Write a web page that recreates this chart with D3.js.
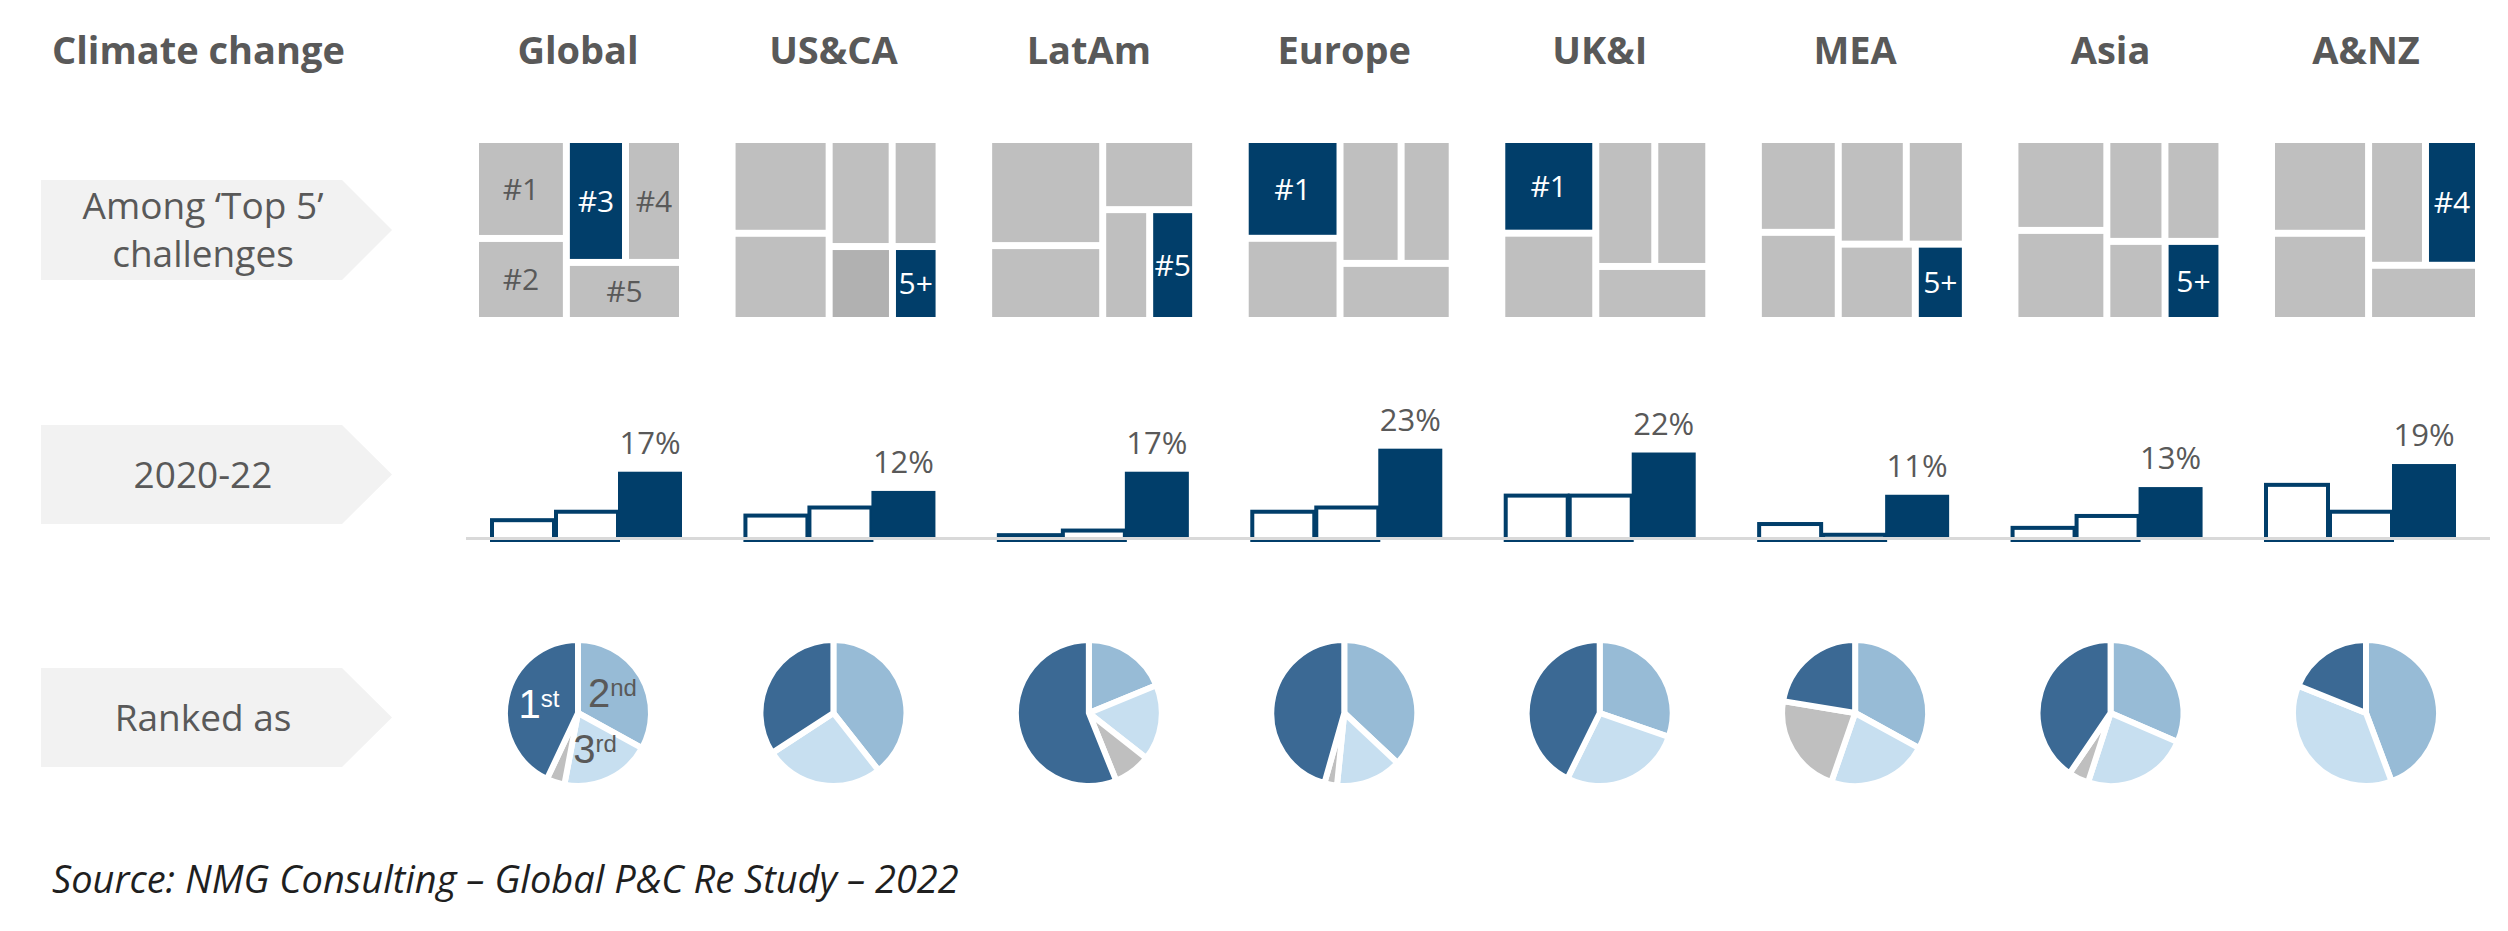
<!DOCTYPE html>
<html lang="en">
<head>
   <meta charset="utf-8">
   <title>Climate change - ranking of challenges by region</title>
   <script src="https://cdnjs.cloudflare.com/ajax/libs/d3/7.8.5/d3.min.js"></script>
   <style type="text/css">
      body { margin: 0; background: #fff; }
      svg text { font-family: "Open Sans", sans-serif; fill: #595959; }
   </style>
</head>

<body>
   <script type="text/javascript">

      // ---- data ----
      var regions = ["Global", "US&CA", "LatAm", "Europe", "UK&I", "MEA", "Asia", "A&NZ"];

      // 'Top 5' treemaps: cell shares (%) in rank order, 6th cell = climate change when it is 5+
      var topCells = [
         [24.0, 19.9, 19.4, 18.7, 18.0],
         [24.3, 22.6, 18.0, 13.4, 12.5, 9.2],
         [32.3, 22.8, 17.4, 13.9, 13.6],
         [25.0, 20.8, 20.2, 16.9, 17.1],
         [23.5, 21.9, 20.0, 18.3, 16.3],
         [19.8, 18.8, 19.0, 16.5, 15.7, 10.2],
         [22.3, 22.1, 15.8, 15.5, 12.3, 12.0],
         [24.3, 22.6, 19.1, 17.8, 16.2]
      ];
      var climateCell = [2, 5, 4, 0, 0, 5, 5, 3];
      var mutedCell = [-1, 4, -1, -1, -1, -1, -1, -1];

      // share of respondents naming climate change, 2020-22 (%)
      var years = ["2020", "2021", "2022"];
      var share2020 = [4.9, 6.1, 1.0, 7.1, 11.3, 3.9, 2.9, 14.1];
      var share2021 = [7.1, 8.2, 2.2, 8.2, 11.3, 1.1, 6.0, 7.1];
      var share2022 = [17, 12, 17, 23, 22, 11, 13, 19];

      // 'Ranked as' pies (%)
      var ranked1st = [43.0, 34.2, 56.1, 45.6, 42.7, 22.4, 40.5, 18.9];
      var ranked2nd = [33.0, 39.4, 18.8, 37.0, 30.3, 33.0, 31.5, 44.3];
      var ranked3rd = [20.0, 26.4, 16.8, 14.6, 27.0, 22.3, 23.5, 36.8];
      var notRanked = [4.0, 0, 8.3, 2.8, 0, 22.3, 4.5, 0];

      var rowLabels = [["Among \u2018Top  5\u2019", "challenges"], ["2020-22"], ["Ranked as"]];
      var title = "Climate change";
      var source = "Source: NMG Consulting \u2013 Global P&C Re Study \u2013 2022";

      // ---- layout ----
      var w = 2508;
      var h = 931;
      var navy = "#013e6a";
      var grey = "#bfbfbf";

      var svg = d3.select("body")
                  .append("svg")
                  .attr("width", w)
                  .attr("height", h);

      var colX = d3.scalePoint().domain(regions).range([578, 2366]);
      var tmX = d3.scalePoint().domain(regions).range([579, 2375]);
      var barX = d3.scalePoint().domain(regions).range([586, 2360]);

      // title + column headers
      svg.append("text")
         .attr("x", 52)
         .attr("y", 64)
         .attr("font-size", "38px")
         .attr("font-weight", "bold")
         .text(title);

      svg.selectAll("text.header")
         .data(regions)
         .enter()
         .append("text")
         .attr("class", "header")
         .attr("x", function(d) { return colX(d); })
         .attr("y", 64)
         .attr("text-anchor", "middle")
         .attr("font-size", "38px")
         .attr("font-weight", "bold")
         .text(function(d) { return d; });

      // row label arrows
      var rowBands = [[180, 280], [425, 524], [668, 767]];
      rowBands.forEach(function(b, i) {
         var mid = (b[0] + b[1]) / 2;
         svg.append("path")
            .attr("d", "M41," + b[0] + "H342L392," + mid + "L342," + b[1] + "H41Z")
            .attr("fill", "#f2f2f2");

         var lines = rowLabels[i];
         var t = svg.append("text")
            .attr("text-anchor", "middle")
            .attr("font-size", "37px");
         lines.forEach(function(line, k) {
            t.append("tspan")
               .attr("x", 203)
               .attr("y", mid + 13 + (k - (lines.length - 1) / 2) * 48)
               .text(line);
         });
      });

      // ---- row 1: treemaps ----
      var tmW = 200, tmH = 174, tmTop = 143;
      var treemap = d3.treemap()
                      .tile(d3.treemapSquarify.ratio(1.3))
                      .size([tmW, tmH])
                      .paddingInner(7);

      regions.forEach(function(r, i) {
         var root = d3.hierarchy({children: topCells[i].map(function(v, j) {
                        return {rank: j, value: v};
                     })})
                     .sum(function(d) { return d.value || 0; });
         treemap(root);

         var g = svg.append("g")
                    .attr("transform", "translate(" + (tmX(r) - tmW / 2) + "," + tmTop + ")");

         var cells = g.selectAll("g")
                      .data(root.leaves())
                      .enter()
                      .append("g");

         cells.append("rect")
              .attr("x", function(d) { return d.x0; })
              .attr("y", function(d) { return d.y0; })
              .attr("width", function(d) { return d.x1 - d.x0; })
              .attr("height", function(d) { return d.y1 - d.y0; })
              .attr("fill", function(d) {
                 if (d.data.rank === climateCell[i]) return navy;
                 if (d.data.rank === mutedCell[i]) return "#b1b1b1";
                 return grey;
              });

         cells.filter(function(d) { return i === 0 || d.data.rank === climateCell[i]; })
              .append("text")
              .attr("x", function(d) { return (d.x0 + d.x1) / 2; })
              .attr("y", function(d) { return (d.y0 + d.y1) / 2; })
              .attr("dy", "0.36em")
              .attr("text-anchor", "middle")
              .attr("font-size", "30px")
              .style("fill", function(d) { return d.data.rank === climateCell[i] ? "#fff" : "#595959"; })
              .text(function(d) { return d.data.rank < 5 ? "#" + (d.data.rank + 1) : "5+"; });
      });

      // ---- row 2: bars 2020-22 ----
      var baseY = 537;
      var yScale = d3.scaleLinear()
                     .domain([0, 25])
                     .range([baseY, baseY - 25 * 3.84]);
      var band = d3.scaleBand().domain(years).range([-96, 96]);
      var sw = 4;

      regions.forEach(function(r, i) {
         var vals = [share2020[i], share2021[i], share2022[i]];
         var g = svg.append("g").attr("transform", "translate(" + barX(r) + ",0)");

         g.selectAll("rect")
          .data(vals)
          .enter()
          .append("rect")
          .attr("x", function(d, k) { return band(years[k]) + (k < 2 ? sw / 2 : 0); })
          .attr("y", function(d, k) { return yScale(d) + (k < 2 ? sw / 2 : 0); })
          .attr("width", function(d, k) { return band.bandwidth() - (k < 2 ? sw / 2 : 0); })
          .attr("height", function(d, k) {
             return k < 2 ? baseY + 3 - yScale(d) - sw / 2 : baseY - yScale(d);
          })
          .attr("fill", function(d, k) { return k < 2 ? "#fff" : navy; })
          .attr("stroke", function(d, k) { return k < 2 ? navy : "none"; })
          .attr("stroke-width", sw);

         g.append("text")
          .attr("x", band("2022") + band.bandwidth() / 2)
          .attr("y", yScale(share2022[i]) - 18)
          .attr("text-anchor", "middle")
          .attr("font-size", "31px")
          .text(share2022[i] + "%");
      });

      svg.append("line")
         .attr("x1", 466)
         .attr("x2", 2490)
         .attr("y1", baseY + 1.5)
         .attr("y2", baseY + 1.5)
         .attr("stroke", "#d9d9d9")
         .attr("stroke-width", 3);

      // ---- row 3: pies ----
      var pieR = 70, pieY = 713, gap = 6;
      var pieColor = {"2nd": "#97bbd6", "3rd": "#c7dff0", "none": grey, "1st": "#3b6994"};
      var pie = d3.pie().sort(null).value(function(d) { return d.value; });
      var arc = d3.arc().innerRadius(0).outerRadius(pieR + gap / 2);
      var labelArc = d3.arc().innerRadius(40).outerRadius(40);

      regions.forEach(function(r, i) {
         var slices = [
            {rank: "2nd", value: ranked2nd[i]},
            {rank: "3rd", value: ranked3rd[i]},
            {rank: "none", value: notRanked[i]},
            {rank: "1st", value: ranked1st[i]}
         ].filter(function(d) { return d.value > 0; });

         var g = svg.append("g").attr("transform", "translate(" + colX(r) + "," + pieY + ")");
         var arcs = pie(slices);

         g.selectAll("path")
          .data(arcs)
          .enter()
          .append("path")
          .attr("d", arc)
          .attr("fill", function(d) { return pieColor[d.data.rank]; })
          .attr("stroke", "#fff")
          .attr("stroke-width", gap)
          .attr("stroke-linejoin", "round");

         if (i === 0) {
            var lab = g.selectAll("text")
               .data(arcs.filter(function(d) { return d.data.rank !== "none"; }))
               .enter()
               .append("text")
               .attr("x", function(d) { return labelArc.centroid(d)[0]; })
               .attr("y", function(d) { return labelArc.centroid(d)[1] + 14; })
               .attr("text-anchor", "middle")
               .style("font-family", "'Liberation Sans', Arial, sans-serif")
               .style("fill", function(d) { return d.data.rank === "1st" ? "#fff" : "#595959"; });
            lab.append("tspan")
               .attr("font-size", "40px")
               .text(function(d) { return d.data.rank.charAt(0); });
            lab.append("tspan")
               .attr("font-size", "24px")
               .attr("dy", -11)
               .text(function(d) { return d.data.rank.slice(1); });
         }
      });

      // source line
      svg.append("text")
         .attr("x", 52)
         .attr("y", 893)
         .attr("font-size", "38px")
         .attr("font-style", "italic")
         .style("fill", "#1f1f1f")
         .text(source);

   </script>
</body>
</html>
